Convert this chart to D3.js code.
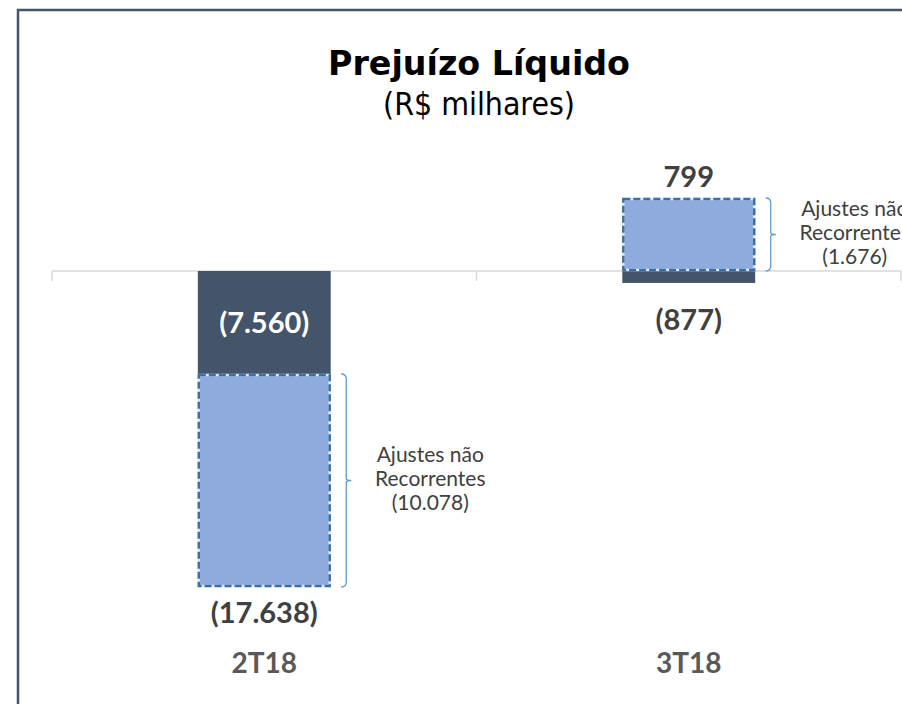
<!DOCTYPE html>
<html>
<head>
<meta charset="utf-8">
<script src="https://cdn.jsdelivr.net/npm/d3@7"></script>
<style>
  body { margin: 0; background: #fff; }
  svg { display: block; }
</style>
</head>
<body>
<script>
// chart data (R$ milhares)
var quarters = ["2T18", "3T18"];
var netLoss = [-7560, -877];          // prejuízo líquido
var adjustments = [10078, 1676];      // ajustes não recorrentes
var adjustedLoss = [-17638, 799];     // resultado sem ajustes

var w = 902;
var h = 704;

var svg = d3.select("body")
            .append("svg")
            .attr("width", w)
            .attr("height", h);

// frame of the original slide box
svg.append("path")
   .attr("d", "M18," + h + "V10H" + w)
   .attr("fill", "none")
   .attr("stroke", "#44546a")
   .attr("stroke-width", 2.5);

// title
svg.append("text")
   .attr("x", 479).attr("y", 75)
   .attr("text-anchor", "middle")
   .attr("textLength", 302)
   .attr("lengthAdjust", "spacingAndGlyphs")
   .style("font-family", "'DejaVu Sans', Verdana, sans-serif")
   .style("font-weight", "bold")
   .style("font-size", "34px")
   .attr("fill", "#000")
   .text("Prejuízo Líquido");

svg.append("text")
   .attr("x", 479).attr("y", 115)
   .attr("text-anchor", "middle")
   .attr("textLength", 192)
   .attr("lengthAdjust", "spacingAndGlyphs")
   .style("font-family", "'DejaVu Sans', Verdana, sans-serif")
   .style("font-size", "32px")
   .attr("fill", "#000")
   .text("(R$ milhares)");

// number format pt-BR, negatives in parentheses
var loc = d3.formatLocale({ decimal: ",", thousands: ".", grouping: [3], currency: ["R$", ""] });
var f = loc.format(",d");
function fmt(v) { return v < 0 ? "(" + f(-v) + ")" : f(v); }

// scales
var x = d3.scaleBand()
          .domain(quarters)
          .range([52, 901])
          .padding(0);

// the original drawing is not to scale between the segments,
// so use a piecewise linear scale through the key values
var y = d3.scaleLinear()
          .domain([adjustedLoss[0], netLoss[0], 0, adjustedLoss[1]])
          .range([587, 374, 271, 198]);

var barW = x.bandwidth() * 0.313;
function cx(i) { return x(quarters[i]) + x.bandwidth() / 2; }

// axis line + ticks at band edges
svg.append("line")
   .attr("x1", x.range()[0]).attr("x2", x.range()[1])
   .attr("y1", y(0)).attr("y2", y(0))
   .attr("stroke", "#d9d9d9").attr("stroke-width", 1.5);

var edges = quarters.map(function(q) { return x(q); }).concat([x.range()[1]]);
svg.selectAll(".tick")
   .data(edges)
   .enter()
   .append("line")
   .attr("x1", function(d) { return d; })
   .attr("x2", function(d) { return d; })
   .attr("y1", y(0))
   .attr("y2", y(0) + 10)
   .attr("stroke", "#d9d9d9").attr("stroke-width", 1.5);

// net loss bars
svg.selectAll(".bar")
   .data(netLoss)
   .enter()
   .append("rect")
   .attr("x", function(d, i) { return cx(i) - barW / 2; })
   .attr("y", y(0))
   .attr("width", barW)
   .attr("height", function(d) { return y(d) - y(0); })
   .attr("fill", "#44546a");

// adjustment boxes (dashed)
function boxTop(i) { return Math.min(y(adjustedLoss[i]), adjustedLoss[i] > 0 ? y(0) : y(netLoss[i])); }
function boxBot(i) { return Math.max(y(adjustedLoss[i]), adjustedLoss[i] > 0 ? y(0) : y(netLoss[i])); }

var boxes = svg.selectAll(".adj")
   .data(adjustments)
   .enter()
   .append("g");

boxes.append("rect")
   .attr("x", function(d, i) { return cx(i) - barW / 2 + 1; })
   .attr("y", function(d, i) { return boxTop(i) + 1; })
   .attr("width", barW - 2)
   .attr("height", function(d, i) { return boxBot(i) - boxTop(i) - 2; })
   .attr("fill", "#8faadc")
   .attr("stroke", "#dfe8f5")
   .attr("stroke-width", 2.5);

boxes.append("rect")
   .attr("x", function(d, i) { return cx(i) - barW / 2 + 1; })
   .attr("y", function(d, i) { return boxTop(i) + 1; })
   .attr("width", barW - 2)
   .attr("height", function(d, i) { return boxBot(i) - boxTop(i) - 2; })
   .attr("fill", "none")
   .attr("stroke", "#3e6fa3")
   .attr("stroke-width", 2.5)
   .attr("stroke-dasharray", "7,3");

// curly brackets
var brOff = 82;
boxes.append("path")
   .attr("d", function(d, i) {
     var bx = cx(i) + brOff, t = boxTop(i), b = boxBot(i), m = (t + b) / 2;
     return "M" + (bx - 5) + "," + t + "Q" + bx + "," + t + " " + bx + "," + (t + 5) +
            "V" + (m - 2) + "Q" + bx + "," + m + " " + (bx + 5) + "," + m +
            "Q" + bx + "," + m + " " + bx + "," + (m + 2) +
            "V" + (b - 5) + "Q" + bx + "," + b + " " + (bx - 5) + "," + b;
   })
   .attr("fill", "none")
   .attr("stroke", "#5b9bd5")
   .attr("stroke-width", 1.3);

// bracket labels
boxes.append("text")
   .attr("text-anchor", "middle")
   .style("font-family", "Lato, 'Open Sans', sans-serif")
   .style("font-size", "21px")
   .attr("fill", "#404040")
   .each(function(d, i) {
     var m = (boxTop(i) + boxBot(i)) / 2 + 5;
     var t = d3.select(this);
     ["Ajustes não", "Recorrentes", "(" + f(d) + ")"].forEach(function(s, k) {
       t.append("tspan")
        .attr("x", cx(i) + 166)
        .attr("y", m + (k - 1) * 24)
        .text(s);
     });
   });

// value labels
var bold = "Lato, 'Open Sans', sans-serif";

svg.selectAll(".netlbl")
   .data(netLoss)
   .enter()
   .append("text")
   .attr("x", function(d, i) { return cx(i); })
   .attr("y", function(d) {
     var hgt = y(d) - y(0);
     return hgt > 60 ? y(0) + hgt / 2 + 10 : y(d) + 47;
   })
   .attr("text-anchor", "middle")
   .style("font-family", bold)
   .style("font-weight", "bold")
   .style("font-size", "29px")
   .attr("fill", function(d) { return y(d) - y(0) > 60 ? "#fff" : "#404040"; })
   .text(function(d) { return fmt(d); });

svg.selectAll(".adjlbl")
   .data(adjustedLoss)
   .enter()
   .append("text")
   .attr("x", function(d, i) { return cx(i); })
   .attr("y", function(d) { return d < 0 ? y(d) + 36 : y(d) - 11; })
   .attr("text-anchor", "middle")
   .style("font-family", bold)
   .style("font-weight", "bold")
   .style("font-size", "29px")
   .attr("fill", "#404040")
   .text(function(d) { return fmt(d); });

// category labels
svg.selectAll(".cat")
   .data(quarters)
   .enter()
   .append("text")
   .attr("x", function(d, i) { return cx(i); })
   .attr("y", 673)
   .attr("text-anchor", "middle")
   .style("font-family", bold)
   .style("font-weight", "bold")
   .style("font-size", "28px")
   .attr("fill", "#595959")
   .text(function(d) { return d; });
</script>
</body>
</html>
